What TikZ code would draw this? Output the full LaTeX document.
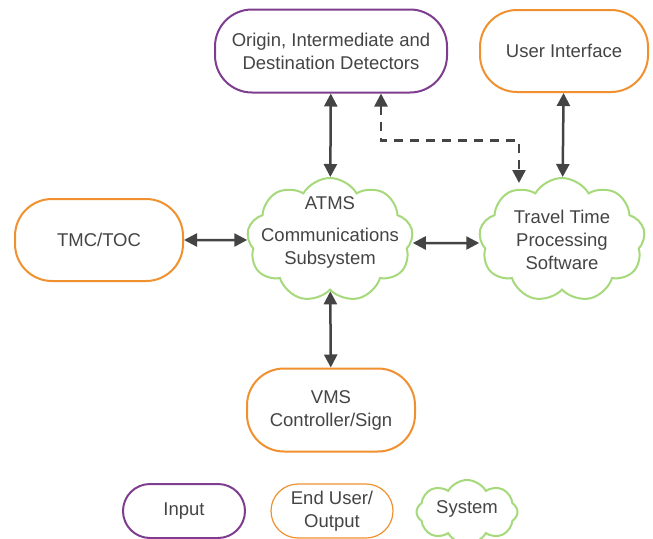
\documentclass[tikz,border=0pt]{standalone}
\usepackage{fontspec}
\setmainfont{Liberation Sans}
\usetikzlibrary{shapes.symbols, arrows.meta}

\definecolor{inpurple}{HTML}{7E3D8F}
\definecolor{outorange}{HTML}{F0902E}
\definecolor{sysgreen}{HTML}{A5D97B}
\definecolor{linkgray}{HTML}{444444}

\begin{document}
\begin{tikzpicture} [x=1pt, y=-1pt,
  font=\fontsize{18.5}{23}\selectfont, text=linkgray,
  pill/.style={rectangle, rounded corners=37pt, draw, line width=2pt, align=center, minimum width=168pt, minimum height=82pt},
  inbox/.style={pill, draw=inpurple},
  outbox/.style={pill, draw=outorange},
  sys/.style={cloud, cloud puffs=9, cloud puff arc=120, cloud ignores aspect, draw=sysgreen, line width=2pt, inner sep=0pt, minimum width=166pt, minimum height=124pt},
  link/.style={linkgray, line width=2.5pt, {Triangle[length=13pt,width=13pt]}-{Triangle[length=13pt,width=13pt]}}]
  \useasboundingbox (0,0) rectangle (653,538);

  \draw (331,51)   node[inbox, minimum width=232pt, minimum height=83pt](det) {Origin, Intermediate and\\Destination Detectors};
  \draw (564,51)   node[outbox](ui) {User Interface};
  \draw (99,240)   node[outbox](tmc) {TMC/TOC};
  \draw (330,240)  node[sys, label={[align=center, yshift=8pt]center:ATMS\\[9pt]Communications\\Subsystem}](atms) {};
  \draw (562,240)  node[sys, label={[align=center]center:Travel Time\\Processing\\Software}](tt) {};
  \draw (331,410)  node[outbox, minimum height=83pt](vms) {VMS\\Controller/Sign};

  % legend
  \draw (184,511)  node[inbox, minimum width=122pt, minimum height=54pt, rounded corners=27pt](lin) {Input};
  \draw (332,511)  node[outbox, minimum width=122pt, minimum height=54pt, rounded corners=27pt, line width=1.2pt](lout) {End User/\\Output};
  \draw (467,512)  node[sys, cloud puffs=8, minimum width=101pt, minimum height=64pt, label={[yshift=3pt]center:System}](lsys) {};

\path (det)  edge[link] (atms)
      (ui)   edge[link] (tt)
      (tmc)  edge[link] (atms)
      ([yshift=-3pt]atms.east) edge[link] ([yshift=-3pt]tt.west)
      (atms) edge[link] (vms);
\draw[link, dash pattern=on 9pt off 7pt] ([xshift=50pt]det.south) -- ++(0,47) -| ([xshift=-43pt,yshift=-6pt]tt.north);
\end{tikzpicture}
\end{document}
